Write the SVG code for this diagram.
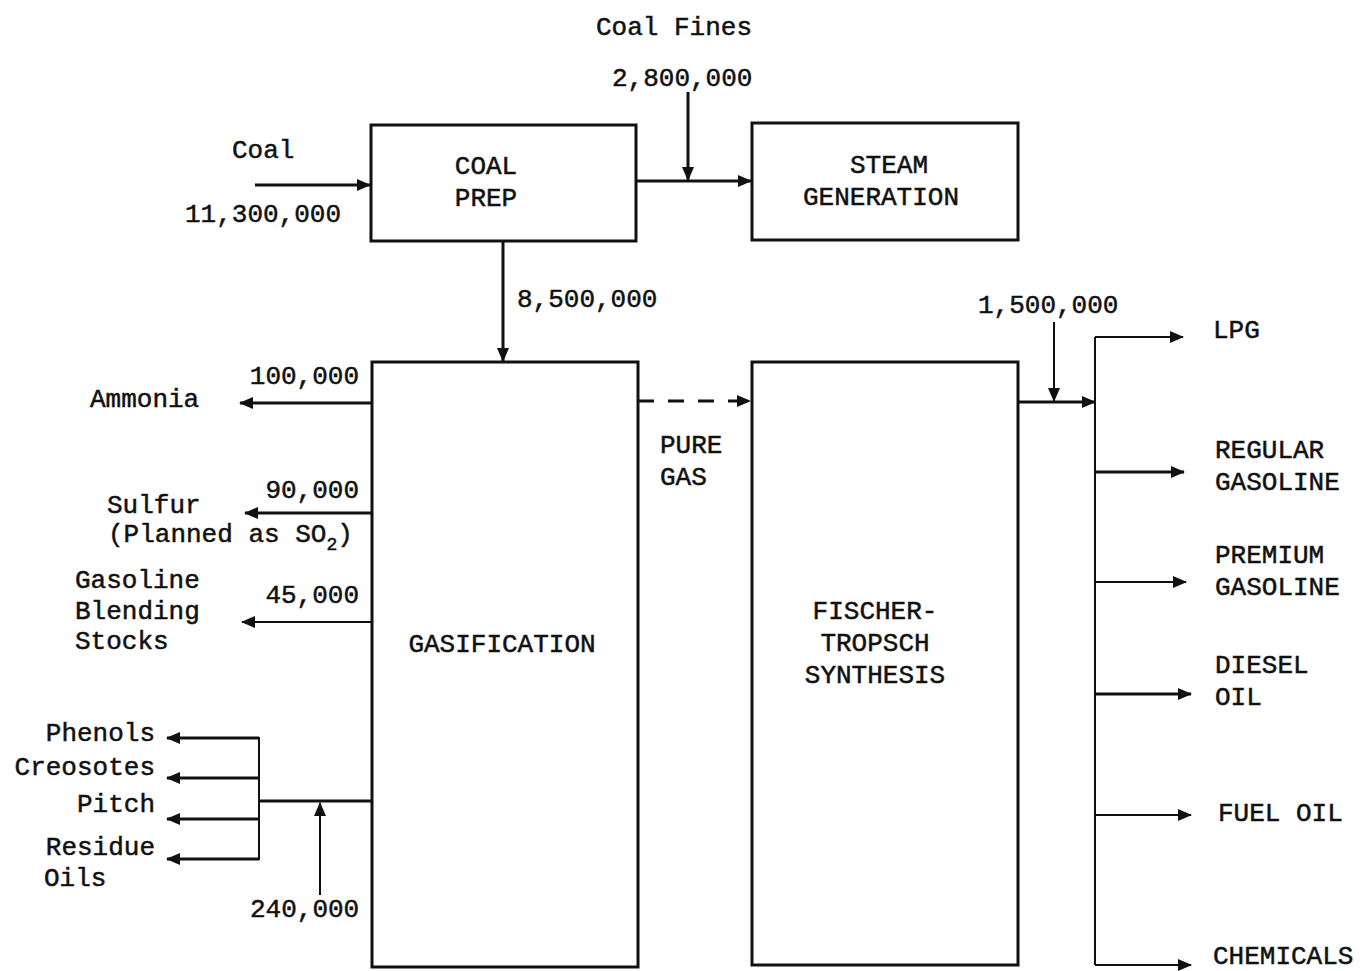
<svg xmlns="http://www.w3.org/2000/svg" width="1360" height="971" viewBox="0 0 1360 971">
<style>
text{font-family:"Liberation Mono","DejaVu Sans Mono",monospace;font-size:26px;fill:#111;stroke:#111;stroke-width:0.5;}
.box{fill:none;stroke:#111;stroke-width:3;}
.ln{fill:none;stroke:#111;stroke-width:3;}
.thin{fill:none;stroke:#111;stroke-width:2;}
.dash{stroke-dasharray:16,14;}
.e{text-anchor:end;}
.m{text-anchor:middle;}
</style>
<defs>
<marker id="ah" viewBox="0 0 14 12" refX="13" refY="6" markerWidth="14" markerHeight="12" markerUnits="userSpaceOnUse" orient="auto">
<path d="M0,0 L14,6 L0,12 z" fill="#111"/>
</marker>
</defs>
<rect width="1360" height="971" fill="#fff"/>

<g id="coalprep"><rect class="box" x="371" y="125" width="265" height="116"/><text class="m" x="486" y="174">COAL</text><text class="m" x="486" y="206">PREP</text></g>
<g id="steam"><rect class="box" x="752" y="123" width="266" height="117"/><text class="m" x="889" y="173">STEAM</text><text class="m" x="881" y="205">GENERATION</text></g>
<g id="gasification"><rect class="box" x="372" y="362" width="266" height="605"/><text class="m" x="502" y="652">GASIFICATION</text></g>
<g id="ft"><rect class="box" x="752" y="362" width="266" height="603"/><text class="m" x="875" y="619">FISCHER-</text><text class="m" x="875" y="651">TROPSCH</text><text class="m" x="875" y="683">SYNTHESIS</text></g>

<g id="connectors">
<path class="ln" d="M255,185 H370" marker-end="url(#ah)"/>
<path class="ln" d="M636,181 H751" marker-end="url(#ah)"/>
<path class="ln" d="M688,92 V180" marker-end="url(#ah)"/>
<path class="ln" d="M503,241 V361" marker-end="url(#ah)"/>
<path class="ln dash" d="M638,401 H750" marker-end="url(#ah)"/>
<path class="ln" d="M371,403 H240" marker-end="url(#ah)"/>
<path class="ln" d="M371,513 H245" marker-end="url(#ah)"/>
<path class="thin" d="M371,622 H242" marker-end="url(#ah)"/>
<path class="ln" d="M371,801 H259"/>
<path class="thin" d="M259,737 V860"/>
<path class="ln" d="M259,738 H167" marker-end="url(#ah)"/>
<path class="ln" d="M259,778 H167" marker-end="url(#ah)"/>
<path class="ln" d="M259,819 H167" marker-end="url(#ah)"/>
<path class="ln" d="M259,859 H167" marker-end="url(#ah)"/>
<path class="thin" d="M320,895 V803" marker-end="url(#ah)"/>
<path class="ln" d="M1018,402 H1095" marker-end="url(#ah)"/>
<path class="thin" d="M1054,322 V401" marker-end="url(#ah)"/>
<path class="thin" d="M1095,337 V965"/>
<path class="thin" d="M1095,337 H1183" marker-end="url(#ah)"/>
<path class="ln" d="M1095,472 H1184" marker-end="url(#ah)"/>
<path class="thin" d="M1095,582 H1186" marker-end="url(#ah)"/>
<path class="ln" d="M1095,694 H1191" marker-end="url(#ah)"/>
<path class="thin" d="M1095,815 H1191" marker-end="url(#ah)"/>
<path class="thin" d="M1095,965 H1191" marker-end="url(#ah)"/>
</g>

<g id="labels">
<text class="m" x="674" y="35">Coal Fines</text>
<text x="612" y="86">2,800,000</text>
<text x="232" y="158">Coal</text>
<text x="185" y="222">11,300,000</text>
<text x="517" y="307">8,500,000</text>
<text x="978" y="313">1,500,000</text>
<text class="e" x="359" y="384">100,000</text>
<text x="90" y="407">Ammonia</text>
<text class="e" x="359" y="498">90,000</text>
<text x="107" y="513">Sulfur</text>
<text x="108" y="542">(Planned as SO<tspan font-size="18" dy="8">2</tspan><tspan dy="-8">)</tspan></text>
<text x="75" y="588">Gasoline</text>
<text x="75" y="619">Blending</text>
<text x="75" y="649">Stocks</text>
<text class="e" x="359" y="603">45,000</text>
<text class="e" x="155" y="741">Phenols</text>
<text class="e" x="155" y="775">Creosotes</text>
<text class="e" x="155" y="812">Pitch</text>
<text class="e" x="155" y="855">Residue</text>
<text x="44" y="886">Oils</text>
<text x="250" y="917">240,000</text>
<text x="660" y="453">PURE</text>
<text x="660" y="485">GAS</text>
<text x="1213" y="338">LPG</text>
<text x="1215" y="458">REGULAR</text>
<text x="1215" y="490">GASOLINE</text>
<text x="1215" y="563">PREMIUM</text>
<text x="1215" y="595">GASOLINE</text>
<text x="1215" y="673">DIESEL</text>
<text x="1215" y="705">OIL</text>
<text x="1218" y="821">FUEL OIL</text>
<text x="1213" y="964" font-size="25">CHEMICALS</text>
</g>
</svg>
